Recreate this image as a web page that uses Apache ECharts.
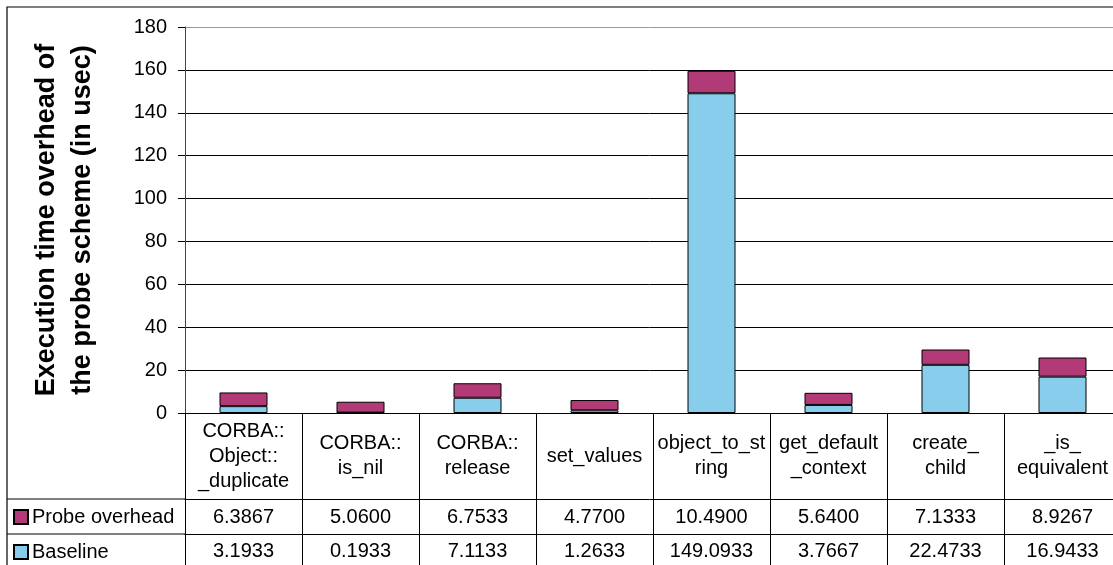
<!DOCTYPE html>
<html>
<head>
<meta charset="utf-8">
<script src="https://cdn.jsdelivr.net/npm/echarts@6/dist/echarts.min.js"></script>
<style>
  html, body { margin: 0; padding: 0; background: #fff; }
  #chart { width: 1113px; height: 565px; }
</style>
</head>
<body>
<div id="chart"></div>
<script>
// Probe method names (line breaks as shown in the table header cells)
const categories = [
  'CORBA::\nObject::\n_duplicate',
  'CORBA::\nis_nil',
  'CORBA::\nrelease',
  'set_values',
  'object_to_st\nring',
  'get_default\n_context',
  'create_\nchild',
  '_is_\nequivalent'
];
const seriesNames = ['Probe overhead', 'Baseline'];
const probeOverhead = [6.3867, 5.0600, 6.7533, 4.7700, 10.4900, 5.6400, 7.1333, 8.9267];
const baseline = [3.1933, 0.1933, 7.1133, 1.2633, 149.0933, 3.7667, 22.4733, 16.9433];
const yTicks = { min: 0, max: 180, step: 20 };

const FONT = "'Liberation Sans', Arial, sans-serif";
const TEXT_SIZE = 20;
const probeColor = '#B23B77';
const baseColor = '#88CEEC';

// Layout of plot area and data table rows
const gridLeft = 185, gridTop = 27, plotBottom = 413;
const row1 = 499, row2 = 534;   // table row separators
const H = 565, frameLeft = 7, frameTop = 7;

const chart = echarts.init(document.getElementById('chart'));

const splitColors = [];
for (let v = yTicks.min; v <= yTicks.max; v += yTicks.step) {
  splitColors.push(v === yTicks.max ? '#9a9a9a' : '#000');
}

const tableAxis = (offset, values, margin) => ({
  type: 'category',
  data: categories,
  position: 'bottom',
  offset: offset,
  axisLine: { show: true, lineStyle: { color: '#000', width: 1 } },
  axisTick: { show: false },
  axisLabel: {
    interval: 0,
    margin: margin,
    verticalAlign: 'middle',
    fontFamily: FONT,
    fontSize: TEXT_SIZE,
    color: '#000',
    formatter: (v, i) => values[i].toFixed(4)
  }
});

// one legend entry per table row
const rowLegend = (name, top) => ({
  data: [name],
  orient: 'horizontal',
  left: 13,
  top: top,
  padding: 0,
  itemWidth: 14,
  itemHeight: 14,
  itemGap: 5,
  icon: 'rect',
  textStyle: { fontFamily: FONT, fontSize: TEXT_SIZE, color: '#000', padding: [0, 0, 0, -1] }
});

chart.setOption({
  animation: false,
  backgroundColor: '#fff',
  grid: {
    left: gridLeft,
    right: -8,
    top: gridTop,
    bottom: H - plotBottom,
    containLabel: false,
    outerBoundsMode: 'none'
  },
  legend: [
    rowLegend(seriesNames[0], 507),
    rowLegend(seriesNames[1], 542)
  ],
  xAxis: [
    {
      type: 'category',
      data: categories,
      position: 'bottom',
      axisLine: { show: true, lineStyle: { color: '#000', width: 1 } },
      axisTick: { show: true, interval: 0, length: 170, lineStyle: { color: '#000', width: 1 } },
      axisLabel: {
        interval: 0,
        margin: 43,
        verticalAlign: 'middle',
        lineHeight: 25,
        fontFamily: FONT,
        fontSize: TEXT_SIZE,
        color: '#000'
      }
    },
    tableAxis(row1 - plotBottom, probeOverhead, 18),
    tableAxis(row2 - plotBottom, baseline, 17)
  ],
  yAxis: {
    type: 'value',
    min: yTicks.min,
    max: yTicks.max,
    interval: yTicks.step,
    name: 'Execution time overhead of\nthe probe scheme (in usec)',
    nameLocation: 'middle',
    nameRotate: 90,
    nameGap: 84,
    nameTextStyle: { fontFamily: FONT, fontSize: 27, fontWeight: 'bold', color: '#000', lineHeight: 36 },
    axisLine: { show: true, lineStyle: { color: '#444', width: 1 } },
    axisTick: { show: true, length: 7, lineStyle: { color: '#000' } },
    axisLabel: { margin: 18, fontFamily: FONT, fontSize: TEXT_SIZE, color: '#000' },
    splitLine: { show: true, lineStyle: { color: splitColors, width: 1 } }
  },
  series: [
    {
      name: seriesNames[1],
      type: 'bar',
      stack: 'total',
      barWidth: 48,
      data: baseline,
      itemStyle: { color: baseColor, borderColor: '#000', borderWidth: 1 }
    },
    {
      name: seriesNames[0],
      type: 'bar',
      stack: 'total',
      barWidth: 48,
      data: probeOverhead,
      itemStyle: { color: probeColor, borderColor: '#000', borderWidth: 1 }
    }
  ],
  graphic: [
    // outer chart frame
    { type: 'rect', shape: { x: frameLeft, y: frameTop, width: 1200, height: 700 },
      style: { fill: null, stroke: '#000', lineWidth: 1.2 }, silent: true },
    // table row separators on the legend column
    { type: 'line', shape: { x1: frameLeft, y1: row1, x2: gridLeft, y2: row1 },
      style: { stroke: '#000', lineWidth: 1 }, silent: true },
    { type: 'line', shape: { x1: frameLeft, y1: row2, x2: gridLeft, y2: row2 },
      style: { stroke: '#000', lineWidth: 1 }, silent: true }
  ]
});
</script>
</body>
</html>
